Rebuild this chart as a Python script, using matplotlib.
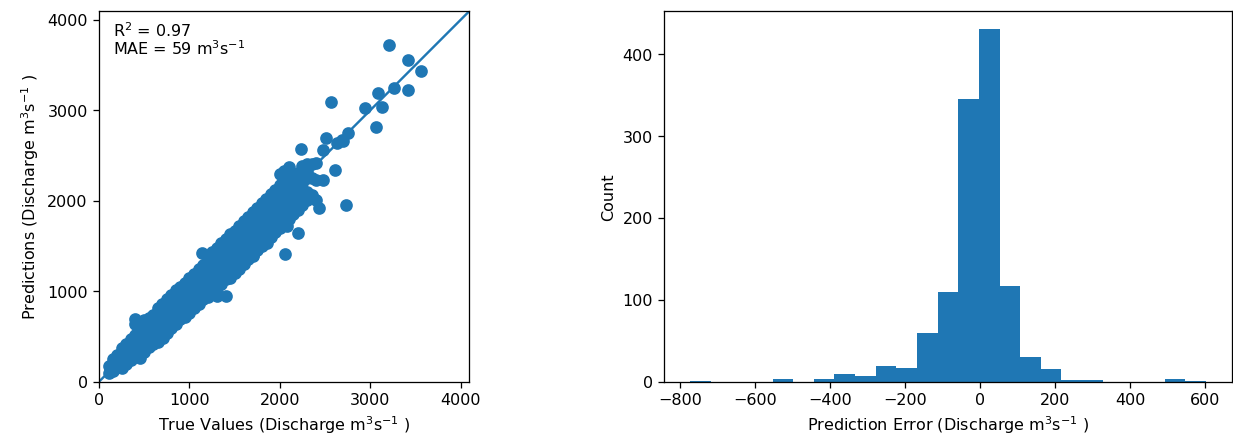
import matplotlib
matplotlib.use("Agg")
import matplotlib.pyplot as plt
import numpy as np

# scatter: main cloud, one column of predictions per true value (m3/s)
band_true = [110, 150, 200, 250, 300, 350, 400, 450, 500, 550, 600, 650, 700,
             750, 800, 850, 900, 950, 1000, 1050, 1100, 1150, 1200, 1250, 1300,
             1350, 1400, 1450, 1500, 1550, 1600, 1650, 1700, 1750, 1800, 1850,
             1900, 1950, 2000, 2050, 2100, 2150, 2200, 2250, 2300, 2350, 2400]
band_pred = [
    [100, 170],
    [120, 200, 250],
    [160, 240, 300],
    [150, 230, 310, 370],
    [200, 280, 360, 420],
    [240, 320, 400, 470],
    [290, 370, 450, 520, 640],
    [290, 370, 450, 530, 610],
    [330, 410, 490, 570, 650, 680],
    [380, 460, 540, 620, 700],
    [420, 500, 580, 660, 740],
    [440, 520, 600, 680, 760, 810],
    [490, 570, 650, 730, 810, 860],
    [540, 620, 700, 780, 860, 910],
    [590, 670, 750, 830, 910, 960],
    [640, 720, 800, 880, 960, 1010],
    [690, 770, 850, 930, 1010, 1050],
    [710, 790, 870, 950, 1030, 1090],
    [760, 840, 920, 1000, 1080, 1140],
    [810, 890, 970, 1050, 1130, 1190],
    [860, 940, 1020, 1100, 1180, 1240],
    [910, 990, 1070, 1150, 1230, 1290],
    [930, 1010, 1090, 1170, 1250, 1330, 1380],
    [980, 1060, 1140, 1220, 1300, 1380, 1430],
    [1030, 1110, 1190, 1270, 1350, 1430, 1480],
    [1080, 1160, 1240, 1320, 1400, 1480, 1530],
    [1130, 1210, 1290, 1370, 1450, 1530, 1580],
    [1180, 1260, 1340, 1420, 1500, 1580, 1630],
    [1200, 1280, 1360, 1440, 1520, 1600, 1670],
    [1250, 1330, 1410, 1490, 1570, 1650, 1720],
    [1300, 1380, 1460, 1540, 1620, 1700, 1770],
    [1350, 1430, 1510, 1590, 1670, 1750, 1820],
    [1400, 1480, 1560, 1640, 1720, 1800, 1870],
    [1450, 1530, 1610, 1690, 1770, 1850, 1920],
    [1500, 1580, 1660, 1740, 1820, 1900, 1970],
    [1550, 1630, 1710, 1790, 1870, 1950, 2020],
    [1600, 1680, 1760, 1840, 1920, 2000, 2070],
    [1650, 1730, 1810, 1890, 1970, 2050, 2120],
    [1700, 1780, 1860, 1940, 2020, 2100, 2170, 2290],
    [1750, 1830, 1990, 2070, 2150, 2220, 2330],
    [1800, 1880, 2050, 2130, 2200, 2280, 2370],
    [1850, 1930, 2100, 2180, 2260],
    [1900, 1990, 2150, 2230, 2310],
    [1950, 2040, 2110, 2200, 2280, 2380],
    [2010, 2100, 2250, 2330, 2410],
    [2060, 2250, 2400],
    [2010, 2230, 2420],
]

# scatter: isolated points away from the main cloud
outlier_true = [3211, 3422, 3562, 3415, 3267, 3083, 3134, 2942, 3061, 2758,
                2685, 2630, 2700, 2563, 2511, 2481, 2234, 2611, 2474, 2732,
                2434, 2205, 2058, 1670, 1705, 1136, 1310, 1400, 1447, 1871,
                1852, 2074, 398, 453, 711]
outlier_pred = [3725, 3551, 3437, 3227, 3245, 3190, 3031, 3024, 2810, 2748,
                2674, 2640, 2660, 3086, 2692, 2563, 2571, 2342, 2231, 1955,
                1918, 1641, 1413, 1476, 1389, 1420, 946, 946, 1149, 1646,
                1536, 1720, 689, 265, 486]

r2_text = "R$^2$ = 0.97\nMAE = 59 m$^3$s$^{-1}$"

# histogram of prediction errors: 25 bins between min and max error
err_min, err_max = -773, 602
err_counts = [1, 0, 0, 0, 3, 0, 3, 9, 7, 19, 17, 59, 109, 346, 431,
              117, 30, 15, 2, 2, 0, 0, 0, 3, 1]

DPI = 115
fig = plt.figure(figsize=(1233.4 / DPI, 443.4 / DPI), dpi=DPI)

true_vals, pred_vals = [], []
for x, col in zip(band_true, band_pred):
    true_vals += [x] * len(col)
    pred_vals += col
true_vals += outlier_true
pred_vals += outlier_pred

ax = fig.add_axes([99 / 1233, 61.3 / 443, 370 / 1233, 370 / 443])
ax.scatter(true_vals, pred_vals, s=48)
ax.set_xlabel("True Values (Discharge m$^3$s$^{-1}$ )")
ax.set_ylabel("Predictions (Discharge m$^3$s$^{-1}$ )")
ax.set_xlim(0, 4093)
ax.set_ylim(0, 4093)
ax.set_xticks([0, 1000, 2000, 3000, 4000])
ax.set_yticks([0, 1000, 2000, 3000, 4000])
ax.plot([-100, 5000], [-100, 5000])
ax.text(0.037, 0.975, r2_text, transform=ax.transAxes, va="top", ha="left",
        linespacing=1.0)

edges = np.linspace(err_min, err_max, len(err_counts) + 1)
centres = (edges[:-1] + edges[1:]) / 2
ax2 = fig.add_axes([664 / 1233, 61.3 / 443, 567.3 / 1233, 370 / 443])
ax2.hist(centres, bins=edges, weights=err_counts)
ax2.set_xlabel("Prediction Error (Discharge m$^3$s$^{-1}$ )")
ax2.set_ylabel("Count")

fig.savefig("out.png", dpi=DPI)
